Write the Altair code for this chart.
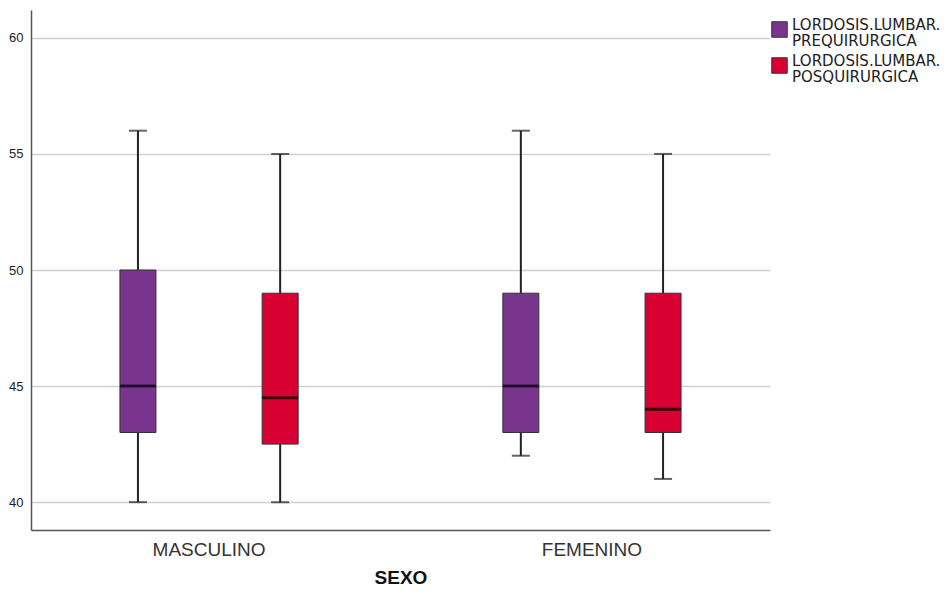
import altair as alt
import pandas as pd

groups = ["MASCULINO", "MASCULINO", "FEMENINO", "FEMENINO"]
variables = ["LORDOSIS.LUMBAR.|PREQUIRURGICA", "LORDOSIS.LUMBAR.|POSQUIRURGICA",
             "LORDOSIS.LUMBAR.|PREQUIRURGICA", "LORDOSIS.LUMBAR.|POSQUIRURGICA"]
mins = [40, 40, 42, 41]
q1s = [43, 42.5, 43, 43]
medians = [45, 44.5, 45, 44]
q3s = [50, 49, 49, 49]
maxs = [56, 55, 56, 55]

group_order = ["MASCULINO", "FEMENINO"]
var_order = ["LORDOSIS.LUMBAR.|PREQUIRURGICA", "LORDOSIS.LUMBAR.|POSQUIRURGICA"]
colors = ["#79358E", "#D80032"]

df = pd.DataFrame({"SEXO": groups, "var": variables, "min": mins, "q1": q1s,
                   "median": medians, "q3": q3s, "max": maxs})

FONT = "Liberation Sans"

x = alt.X("SEXO:N", sort=group_order,
          scale=alt.Scale(paddingInner=0.2, paddingOuter=0.065),
          axis=alt.Axis(title="SEXO", labelAngle=0, ticks=False, labelFontSize=19,
                        labelColor="#333333", labelPadding=10, titleFontSize=19,
                        titleFontWeight="bold", titleColor="#111111", titlePadding=9,
                        domainColor="#555555", labelFont=FONT, titleFont=FONT))
xo = alt.XOffset("var:N", sort=var_order,
                 scale=alt.Scale(domain=var_order, paddingInner=0.5, paddingOuter=0.327))
yscale = alt.Scale(domain=[38.8, 61.2], nice=False, zero=False)
yaxis = alt.Axis(title=None, values=[40, 45, 50, 55, 60], ticks=False, labelFontSize=13,
                 labelColor="#222222", labelPadding=8, gridColor="#d0d0d0", gridWidth=1.5,
                 domainColor="#555555", labelFont=FONT)

base = alt.Chart(df)

whisker = base.mark_rule(color="#222222", strokeWidth=2).encode(
    x=x, xOffset=xo,
    y=alt.Y("min:Q", scale=yscale, axis=yaxis), y2="max:Q")

box = base.mark_bar(width=36, stroke="#333333", strokeWidth=1).encode(
    x=x, xOffset=xo,
    y=alt.Y("q1:Q", scale=yscale), y2="q3:Q",
    color=alt.Color("var:N", sort=var_order,
                    scale=alt.Scale(domain=var_order, range=colors),
                    legend=alt.Legend(title=None, orient="none", legendX=740, legendY=11,
                                      labelExpr="split(datum.label, '|')",
                                      labelFontSize=15, labelFont="DejaVu Sans",
                                      labelBaseline="alphabetic",
                                      labelColor="#222222", symbolType="square",
                                      symbolSize=240, symbolStrokeColor="#333333",
                                      symbolStrokeWidth=1, symbolOpacity=1, labelOffset=4,
                                      rowPadding=4, labelLimit=300)))

caps_min = base.mark_tick(color="#222222", size=18, thickness=2).encode(
    x=x, xOffset=xo, y=alt.Y("min:Q", scale=yscale))
caps_max = base.mark_tick(color="#222222", size=18, thickness=2).encode(
    x=x, xOffset=xo, y=alt.Y("max:Q", scale=yscale))
med = base.mark_tick(color="#000000", size=36, thickness=3).encode(
    x=x, xOffset=xo, y=alt.Y("median:Q", scale=yscale))

chart = alt.layer(whisker, box, caps_min, caps_max, med).properties(
    width=739, height=520,
    autosize=alt.AutoSizeParams(type="none"),
    padding={"left": 23, "top": 2, "right": 170, "bottom": 58},
).configure(style={"guide-label": {"lineHeight": 16}}).configure_view(
    stroke=None).configure_axis(domainWidth=1.5)

chart.save("out.html", embed_options={"renderer": "svg", "actions": False})
